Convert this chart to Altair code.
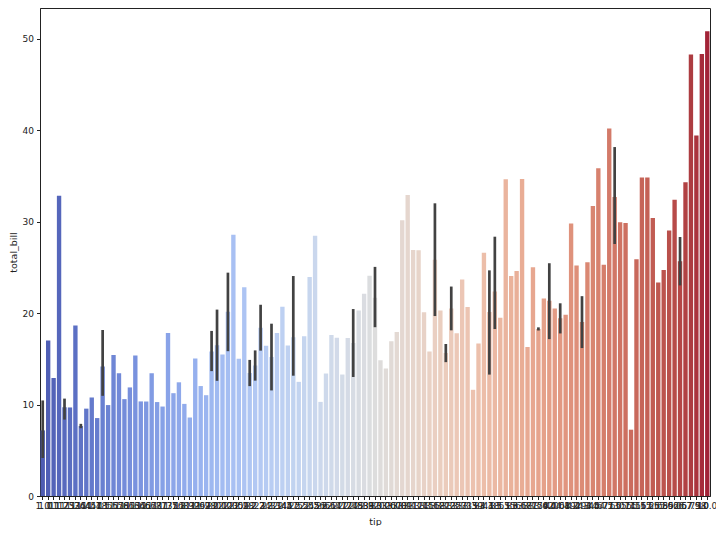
import colorsys
import altair as alt
import pandas as pd

# --- data: mean total_bill for every distinct tip value (categorical x) ---
tips = ["1.0", "1.01", "1.1", "1.17", "1.25", "1.32", "1.36", "1.44", "1.45", "1.47",
        "1.48", "1.5", "1.56", "1.57", "1.58", "1.61", "1.63", "1.64", "1.66", "1.67",
        "1.68", "1.71", "1.73", "1.75", "1.76", "1.8", "1.83", "1.92", "1.96", "1.97",
        "1.98", "2.0", "2.01", "2.02", "2.03", "2.05", "2.09", "2.18", "2.2", "2.23",
        "2.24", "2.3", "2.31", "2.34", "2.45", "2.47", "2.5", "2.52", "2.54", "2.55",
        "2.56", "2.6", "2.61", "2.64", "2.71", "2.72", "2.74", "2.75", "2.83", "2.88",
        "2.92", "3.0", "3.02", "3.06", "3.07", "3.08", "3.09", "3.11", "3.12", "3.14",
        "3.15", "3.16", "3.18", "3.21", "3.23", "3.25", "3.27", "3.31", "3.35", "3.39",
        "3.4", "3.41", "3.48", "3.5", "3.51", "3.55", "3.6", "3.61", "3.68", "3.71",
        "3.75", "3.76", "3.92", "4.0", "4.06", "4.08", "4.19", "4.2", "4.29", "4.3",
        "4.34", "4.5", "4.67", "4.71", "4.73", "5.0", "5.07", "5.14", "5.15", "5.16",
        "5.17", "5.2", "5.6", "5.65", "5.85", "5.92", "6.0", "6.5", "6.7", "6.73",
        "7.58", "9.0", "10.0"]

total_bill = [7.17, 16.99, 12.9, 32.83, 9.70, 9.68, 18.64, 7.65, 9.55, 10.77,
              8.52, 14.16, 9.94, 15.42, 13.42, 10.59, 11.87, 15.36, 10.34, 10.33,
              13.42, 10.27, 9.78, 17.82, 11.24, 12.43, 10.07, 8.58, 15.04, 12.02,
              11.02, 15.80, 16.49, 15.48, 20.13, 28.55, 15.01, 22.82, 13.45, 14.27,
              18.40, 16.43, 15.19, 17.81, 20.69, 16.45, 17.35, 12.48, 17.46, 23.95,
              28.44, 10.29, 13.39, 17.59, 17.29, 13.28, 17.26, 16.73, 20.27, 22.12,
              24.08, 21.68, 14.83, 13.94, 16.93, 17.92, 30.14, 32.9, 26.88, 26.86,
              20.08, 15.81, 25.84, 20.29, 15.63, 20.51, 17.78, 23.68, 20.65, 11.61,
              16.66, 26.59, 20.12, 22.35, 19.49, 34.63, 24.06, 24.59, 34.65, 16.29,
              25.0, 18.27, 21.58, 21.35, 20.49, 19.42, 19.81, 29.8, 25.21, 19.01,
              25.56, 31.71, 35.83, 25.29, 40.17, 32.69, 29.93, 29.85, 7.25, 25.89,
              34.83, 34.81, 30.4, 23.33, 24.71, 29.03, 32.4, 25.67, 34.3, 48.27,
              39.42, 48.33, 50.81]

# --- confidence intervals (only tips that occur more than once) ---
ci_tips = ["1.0", "1.25", "1.44", "1.5", "2.0", "2.01", "2.03", "2.2", "2.23", "2.24",
           "2.31", "2.5", "2.75", "3.0", "3.18", "3.23", "3.25", "3.48", "3.5", "3.76",
           "4.0", "4.08", "4.3", "5.0", "6.5"]
ci_low = [4.3, 8.5, 7.56, 11.1, 13.8, 12.74, 15.98, 12.16, 12.76, 16.04,
          11.69, 13.3, 13.16, 18.6, 19.82, 14.78, 18.26, 13.42, 18.4, 18.24,
          17.3, 17.92, 16.32, 27.7, 23.17]
ci_high = [10.3, 10.5, 7.74, 18.0, 17.9, 20.23, 24.27, 14.73, 15.77, 20.76,
           18.69, 23.9, 20.29, 24.9, 31.85, 16.47, 22.75, 24.52, 28.2, 18.29,
           25.3, 20.92, 21.7, 38.0, 28.17]

y_ticks = [0, 10, 20, 30, 40, 50]

# --- styling: coolwarm palette, desaturated like seaborn (saturation=.75) ---
_cw = [(59, 76, 192), (68, 90, 204), (77, 104, 215), (87, 117, 225), (98, 130, 234),
       (108, 142, 241), (119, 154, 247), (130, 165, 251), (141, 176, 254), (152, 185, 255),
       (163, 194, 255), (174, 201, 253), (184, 208, 249), (194, 213, 244), (204, 217, 238),
       (213, 219, 230), (221, 221, 221), (229, 216, 209), (236, 211, 197), (241, 204, 185),
       (245, 196, 173), (247, 187, 160), (247, 177, 148), (247, 166, 135), (244, 154, 123),
       (241, 141, 111), (236, 127, 99), (229, 112, 88), (222, 96, 77), (213, 80, 66),
       (203, 62, 56), (192, 40, 47), (180, 4, 38)]


def coolwarm(t):
    pos = t * (len(_cw) - 1)
    i = min(int(pos), len(_cw) - 2)
    f = pos - i
    return [(_cw[i][k] * (1 - f) + _cw[i + 1][k] * f) / 255 for k in range(3)]


def desat(rgb, s=0.75):
    h, l, sat = colorsys.rgb_to_hls(*rgb)
    r, g, b = colorsys.hls_to_rgb(h, l, sat * s)
    return "#%02x%02x%02x" % (round(r * 255), round(g * 255), round(b * 255))


n = len(tips)
colors = [desat(coolwarm((i + 1) / (n + 1))) for i in range(n)]

bars_df = pd.DataFrame({"tip": tips, "total_bill": total_bill})
ci_df = pd.DataFrame({"tip": ci_tips, "lo": ci_low, "hi": ci_high})

FONT = "DejaVu Sans"
xscale = alt.Scale(domain=tips, paddingInner=0.2, paddingOuter=0.1)
yscale = alt.Scale(domain=[0, 53.35], nice=False, zero=True)

xaxis = alt.Axis(title="tip", labelAngle=0, labelOverlap=False, labelFontSize=9,
                 labelFont=FONT, labelColor="#222222", titleFont=FONT, titleFontSize=9.5,
                 titleFontWeight="normal", titleColor="#222222", tickSize=3.5,
                 tickColor="#222222", domainColor="#222222", labelPadding=2,
                 titlePadding=6, grid=False)
yaxis = alt.Axis(title="total_bill", values=y_ticks, labelFontSize=9, labelFont=FONT,
                 labelColor="#222222", titleFont=FONT, titleFontSize=9.5,
                 titleFontWeight="normal", titleColor="#222222", tickSize=3.5,
                 tickColor="#222222", domainColor="#222222", labelPadding=3,
                 titlePadding=4, grid=False)

bars = alt.Chart(bars_df).mark_bar().encode(
    x=alt.X("tip:N", scale=xscale, axis=xaxis, sort=tips),
    y=alt.Y("total_bill:Q", scale=yscale, axis=yaxis),
    color=alt.Color("tip:N", scale=alt.Scale(domain=tips, range=colors), legend=None),
)

errs = alt.Chart(ci_df).mark_rule(color="#424242", strokeWidth=2.7, strokeCap="square").encode(
    x=alt.X("tip:N", scale=xscale, sort=tips),
    y=alt.Y("lo:Q", scale=yscale),
    y2="hi:Q",
)

chart = alt.layer(bars, errs).properties(
    width=670, height=488,
    autosize=alt.AutoSizeParams(type="none"),
    padding={"left": 32, "top": 0, "right": 6, "bottom": 30},
).configure_view(stroke="#222222", strokeWidth=1)

chart.save("out.html", embed_options={"renderer": "svg", "actions": False})
